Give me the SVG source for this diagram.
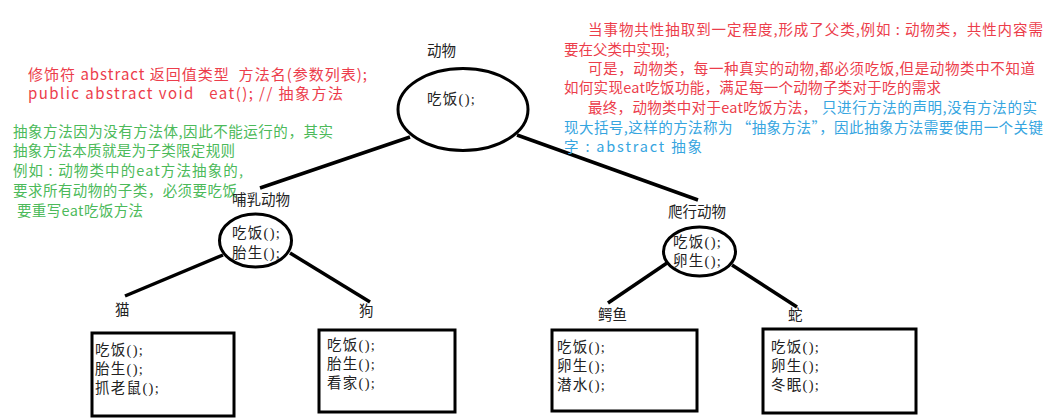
<svg xmlns="http://www.w3.org/2000/svg" width="1050" height="419" viewBox="0 0 1050 419">
<style>
.bg{fill:#fff}
.shape{fill:#fff;stroke:#000;stroke-width:3}
.conn line{stroke:#000;stroke-width:3.5}
.lbl{font-family:"Liberation Serif","Noto Sans CJK SC",serif;font-size:14.5px;fill:#222}
.m{letter-spacing:1.3px}
.note{font-family:"Noto Sans CJK SC","Liberation Mono",sans-serif;font-size:14.5px;white-space:pre}
.red{fill:#ec3d4b}
.green{fill:#4cba5a}
.blue{fill:#36a5df}
</style>
<rect class="bg" x="0" y="0" width="1050" height="419"/>
<g id="connectors" class="conn">
<line x1="410" y1="137" x2="260" y2="188"/>
<line x1="517" y1="135" x2="698" y2="200"/>
<line x1="223" y1="255" x2="125" y2="296"/>
<line x1="290" y1="253" x2="370" y2="302"/>
<line x1="667" y1="263" x2="608" y2="303"/>
<line x1="732" y1="265" x2="797" y2="307"/>
</g>
<g id="note-syntax" class="note red">
<text xml:space="preserve" x="28" y="80" font-size="15" textLength="339" lengthAdjust="spacing">修饰符 abstract 返回值类型  方法名(参数列表);</text>
<text xml:space="preserve" x="28" y="99" font-size="15" textLength="315" lengthAdjust="spacing">public abstract void   eat(); // 抽象方法</text>
</g>
<g id="note-green" class="note green">
<text x="13" y="137" textLength="320" lengthAdjust="spacing">抽象方法因为没有方法体,因此不能运行的，其实</text>
<text x="13" y="156" textLength="222" lengthAdjust="spacing">抽象方法本质就是为子类限定规则</text>
<text x="13" y="176" textLength="230" lengthAdjust="spacing">例如 : 动物类中的eat方法抽象的,</text>
<text x="13" y="196" textLength="224" lengthAdjust="spacing">要求所有动物的子类，必须要吃饭</text>
<text x="17" y="216" textLength="126" lengthAdjust="spacing">要重写eat吃饭方法</text>
</g>
<g id="note-right" class="note">
<text class="red" x="588" y="35" textLength="455" lengthAdjust="spacing">当事物共性抽取到一定程度,形成了父类,例如 : 动物类，共性内容需</text>
<text class="red" x="564" y="55">要在父类中实现;</text>
<text class="red" x="588" y="74" textLength="447" lengthAdjust="spacing">可是，动物类，每一种真实的动物,都必须吃饭,但是动物类中不知道</text>
<text class="red" x="564" y="93" textLength="377" lengthAdjust="spacing">如何实现eat吃饭功能，满足每一个动物子类对于吃的需求</text>
<text class="red" x="588" y="113" textLength="229" lengthAdjust="spacing">最终，动物类中对于eat吃饭方法，</text>
<text class="blue" x="822" y="113" textLength="215" lengthAdjust="spacing">只进行方法的声明,没有方法的实</text>
<text class="blue" x="564" y="133" textLength="479" lengthAdjust="spacing">现大括号,这样的方法称为 “抽象方法”，因此抽象方法需要使用一个关键</text>
<text class="blue" x="564" y="152" textLength="138" lengthAdjust="spacing">字 : abstract 抽象</text>
</g>
<g id="node-animal">
<text class="lbl" x="427" y="56">动物</text>
<ellipse class="shape" cx="463" cy="109.5" rx="65" ry="41"/>
<text class="lbl m" x="427" y="104">吃饭();</text>
</g>
<g id="node-mammal">
<text class="lbl" x="232" y="205">哺乳动物</text>
<ellipse class="shape" cx="255.5" cy="240.5" rx="36" ry="26.5"/>
<text class="lbl m" x="232" y="238">吃饭();</text>
<text class="lbl m" x="232" y="258">胎生();</text>
</g>
<g id="node-reptile">
<text class="lbl" x="668" y="217">爬行动物</text>
<ellipse class="shape" cx="699.5" cy="251.5" rx="36" ry="24.5"/>
<text class="lbl m" x="673" y="247">吃饭();</text>
<text class="lbl m" x="673" y="266">卵生();</text>
</g>
<g id="node-cat">
<text class="lbl" x="115" y="315">猫</text>
<rect class="shape" x="92" y="333" width="142" height="83"/>
<text class="lbl m" x="95" y="355">吃饭();</text>
<text class="lbl m" x="95" y="374">胎生();</text>
<text class="lbl m" x="95" y="393">抓老鼠();</text>
</g>
<g id="node-dog">
<text class="lbl" x="359" y="316">狗</text>
<rect class="shape" x="319" y="330" width="136" height="82"/>
<text class="lbl m" x="327" y="350">吃饭();</text>
<text class="lbl m" x="327" y="369">胎生();</text>
<text class="lbl m" x="327" y="388">看家();</text>
</g>
<g id="node-crocodile">
<text class="lbl" x="598" y="320">鳄鱼</text>
<rect class="shape" x="552" y="330" width="145" height="81"/>
<text class="lbl m" x="557" y="352">吃饭();</text>
<text class="lbl m" x="557" y="371">卵生();</text>
<text class="lbl m" x="557" y="390">潜水();</text>
</g>
<g id="node-snake">
<text class="lbl" x="788" y="320">蛇</text>
<rect class="shape" x="763" y="329" width="153" height="84"/>
<text class="lbl m" x="771" y="352">吃饭();</text>
<text class="lbl m" x="771" y="371">卵生();</text>
<text class="lbl m" x="771" y="390">冬眠();</text>
</g>
</svg>
